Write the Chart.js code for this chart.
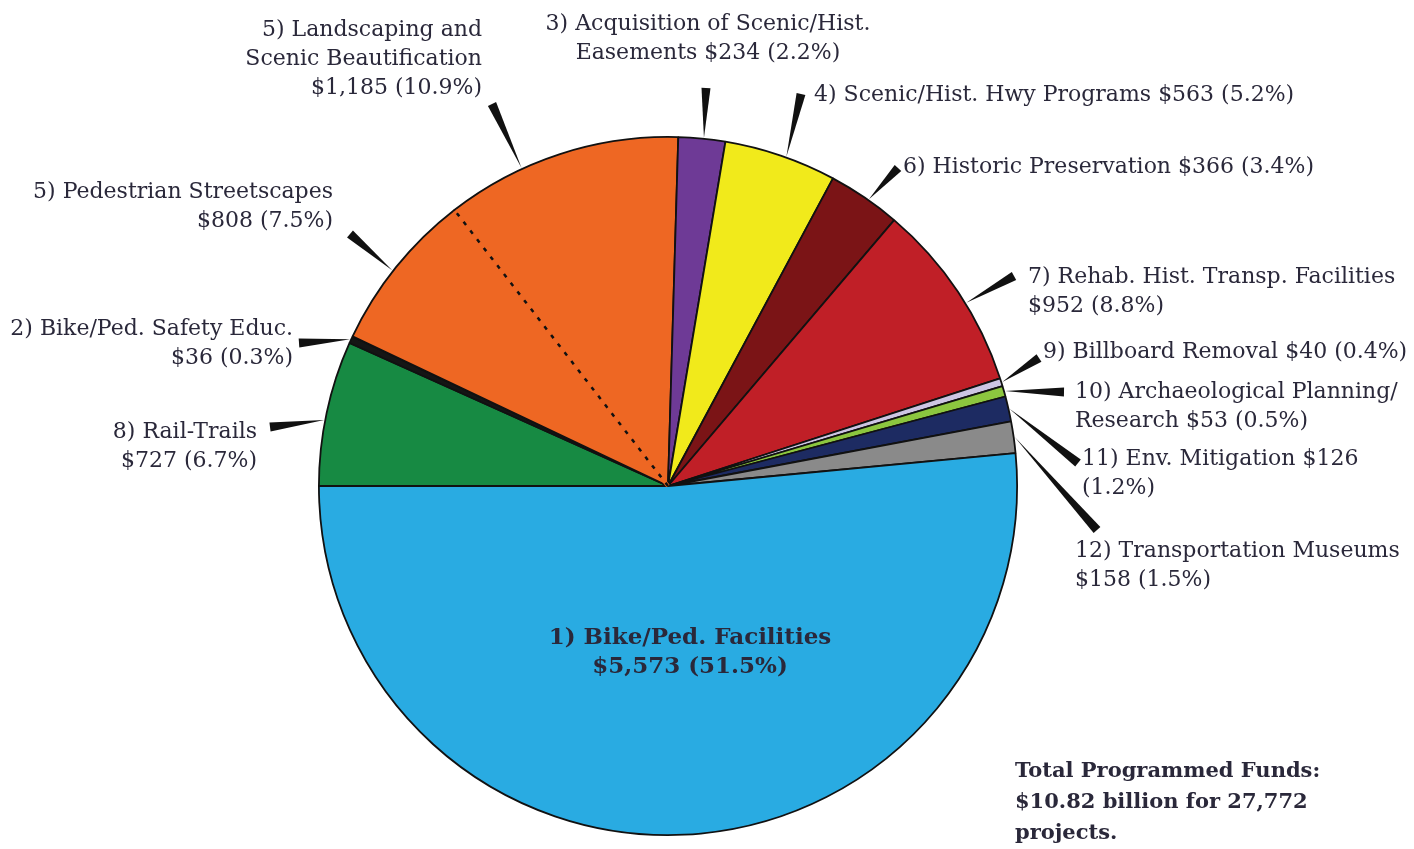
<!DOCTYPE html>
<html lang="en">
<head>
<meta charset="UTF-8">
<title>Total Programmed Funds</title>
<script src="https://cdn.jsdelivr.net/npm/chart.js"></script>
<style>
  html, body { margin: 0; padding: 0; background: #fff; }
</style>
</head>
<body>
<canvas id="myChart" width="1414" height="849"></canvas>
<script>
// slices, clockwise starting at 9 o'clock
const categories = ["8) Rail-Trails", "2) Bike/Ped. Safety Educ.", "5) Pedestrian Streetscapes",
  "5) Landscaping and Scenic Beautification", "3) Acquisition of Scenic/Hist. Easements",
  "4) Scenic/Hist. Hwy Programs", "6) Historic Preservation", "7) Rehab. Hist. Transp. Facilities",
  "9) Billboard Removal", "10) Archaeological Planning/Research", "11) Env. Mitigation",
  "12) Transportation Museums", "1) Bike/Ped. Facilities"];
const funds = [727, 36, 808, 1185, 234, 563, 366, 952, 40, 53, 126, 158, 5573]; // $ millions
const percents = [6.7, 0.3, 7.5, 10.9, 2.2, 5.2, 3.4, 8.8, 0.4, 0.5, 1.2, 1.5, 51.5];
const colours = ["#178a43", "#151515", "#ee6723", "#ee6723", "#6e3a96", "#f1ea1b", "#7b1416",
  "#c01f27", "#cdc5e3", "#8cc63f", "#1d2b62", "#8a8a8a", "#29abe2"];

// label text, {v} = funds, {p} = percent
const labelLines = [
  ["8) Rail-Trails", "{v} ({p})"],
  ["2) Bike/Ped. Safety Educ.", "{v} ({p})"],
  ["5) Pedestrian Streetscapes", "{v} ({p})"],
  ["5) Landscaping and", "Scenic Beautification", "{v} ({p})"],
  ["3) Acquisition of Scenic/Hist.", "Easements {v} ({p})"],
  ["4) Scenic/Hist. Hwy Programs {v} ({p})"],
  ["6) Historic Preservation {v} ({p})"],
  ["7) Rehab. Hist. Transp. Facilities", "{v} ({p})"],
  ["9) Billboard Removal {v} ({p})"],
  ["10) Archaeological Planning/", "Research {v} ({p})"],
  ["11) Env. Mitigation {v}", "({p})"],
  ["12) Transportation Museums", "{v} ({p})"],
  ["1) Bike/Ped. Facilities", "{v} ({p})"]
];
const totalNote = ["Total Programmed Funds:", "$10.82 billion for 27,772", "projects."];

// where each label sits; wedge = wide end of the pointer, f = where along the slice it touches
const labelLayout = [
  { x: 257, y: 438, align: "right", wedge: [270, 427], f: 0.45 },
  { x: 293, y: 335, align: "right", wedge: [299, 343], f: 0.5 },
  { x: 333, y: 198, align: "right", wedge: [350, 234], f: 0.47 },
  { x: 482, y: 36, align: "right", wedge: [492, 104], f: 0.33 },
  { x: 708, y: 30, align: "center", wedge: [706, 88], f: 0.54 },
  { x: 814, y: 101, align: "left", wedge: [801, 94], f: 0.55 },
  { x: 903, y: 173, align: "left", wedge: [898, 168], f: 0.56 },
  { x: 1028, y: 283, align: "left", wedge: [1014, 276], f: 0.57 },
  { x: 1043, y: 358, align: "left", wedge: [1039, 358], f: 0.5 },
  { x: 1075, y: 398, align: "left", wedge: [1064, 392], f: 0.5 },
  { x: 1082, y: 465, align: "left", wedge: [1078, 463], f: 0.5 },
  { x: 1075, y: 557, align: "left", wedge: [1097, 530], f: 0.5 },
  { x: 690, y: 644, align: "center", bold: true }
];

const textColour = "#2a283a";
const lineGap = 29;

function fillText(lines, i) {
  const v = "$" + funds[i].toLocaleString("en-US");
  const p = percents[i].toFixed(1) + "%";
  return lines.map(s => s.replace("{v}", v).replace("{p}", p));
}

const calloutPlugin = {
  id: "callouts",
  afterDatasetsDraw(chart) {
    const ctx = chart.ctx;
    const arcs = chart.getDatasetMeta(0).data;

    // dashed divider between the two "5)" slices
    const a = arcs[3];
    const ang = a.startAngle;
    const ex = a.x + (a.outerRadius - 1) * Math.cos(ang);
    const ey = a.y + (a.outerRadius - 1) * Math.sin(ang);
    ctx.save();
    ctx.strokeStyle = colours[3];
    ctx.lineWidth = 4;
    ctx.beginPath(); ctx.moveTo(a.x, a.y); ctx.lineTo(ex, ey); ctx.stroke();
    ctx.strokeStyle = "#111";
    ctx.lineWidth = 2.5;
    ctx.setLineDash([4, 7]);
    ctx.beginPath(); ctx.moveTo(a.x, a.y); ctx.lineTo(ex, ey); ctx.stroke();
    ctx.restore();

    // pointers and labels
    ctx.save();
    labelLayout.forEach((lay, i) => {
      const arc = arcs[i];
      if (lay.wedge) {
        const t = arc.startAngle + lay.f * (arc.endAngle - arc.startAngle);
        const tx = arc.x + (arc.outerRadius + 1) * Math.cos(t);
        const ty = arc.y + (arc.outerRadius + 1) * Math.sin(t);
        const [wx, wy] = lay.wedge;
        const len = Math.hypot(wx - tx, wy - ty);
        const nx = -(wy - ty) / len * 4.5, ny = (wx - tx) / len * 4.5;
        ctx.fillStyle = "#111";
        ctx.beginPath();
        ctx.moveTo(tx, ty);
        ctx.lineTo(wx + nx, wy + ny);
        ctx.lineTo(wx - nx, wy - ny);
        ctx.closePath();
        ctx.fill();
      }
      ctx.fillStyle = textColour;
      ctx.font = (lay.bold ? "bold 23px" : "22px") + " 'DejaVu Serif'";
      ctx.textAlign = lay.align;
      ctx.textBaseline = "alphabetic";
      fillText(labelLines[i], i).forEach((s, k) => ctx.fillText(s, lay.x, lay.y + k * lineGap));
    });

    ctx.font = "bold 21px 'DejaVu Serif'";
    ctx.textAlign = "left";
    totalNote.forEach((s, k) => ctx.fillText(s, 1015, 777 + k * 31));
    ctx.restore();
  }
};

new Chart(document.getElementById("myChart"), {
  type: "pie",
  data: {
    labels: categories,
    datasets: [{
      data: funds,
      backgroundColor: colours,
      borderColor: "#111",
      borderWidth: 1.8
    }]
  },
  options: {
    responsive: false,
    animation: false,
    rotation: 270,
    layout: { padding: { left: 318, right: 396, top: 136, bottom: 13 } },
    plugins: { legend: { display: false }, tooltip: { enabled: false } }
  },
  plugins: [calloutPlugin]
});
</script>
</body>
</html>
